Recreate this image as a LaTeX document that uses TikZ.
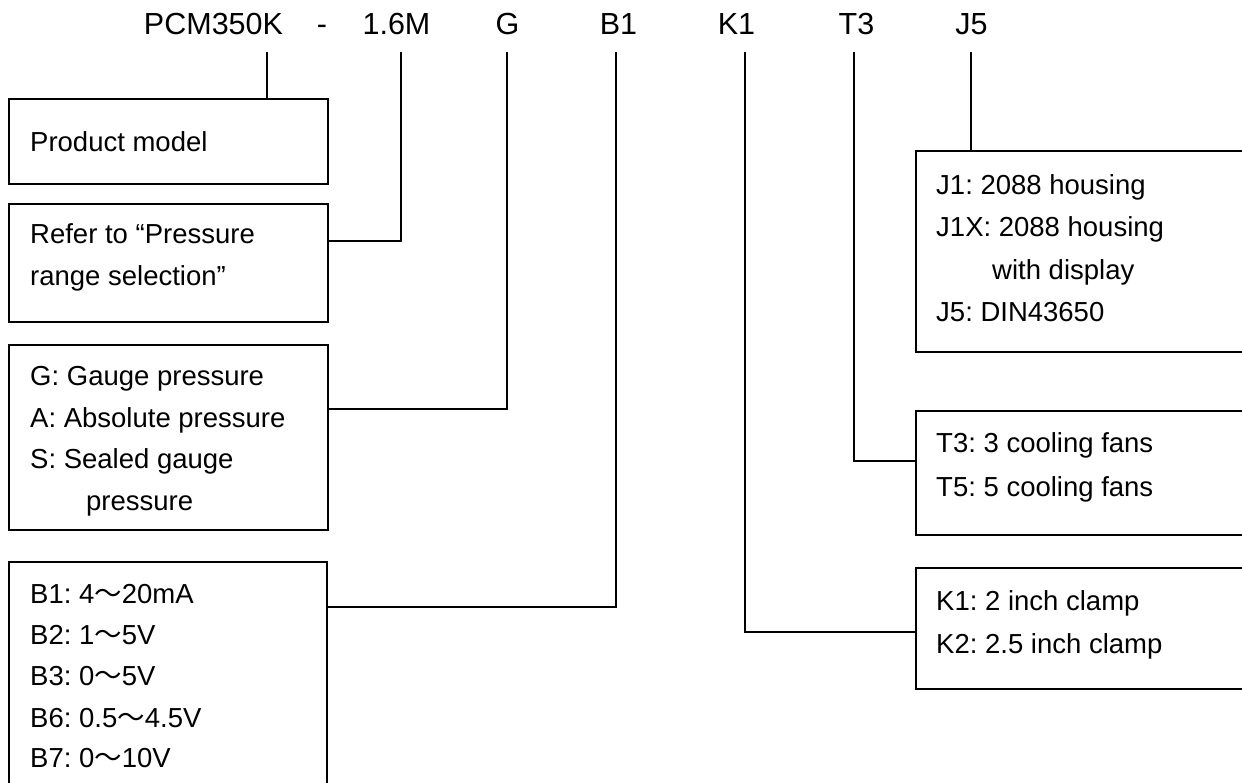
\documentclass[tikz,border=0pt]{standalone}
\usepackage{fontspec}
\setmainfont{Liberation Sans}
\newfontfamily\cjk{Noto Sans CJK SC}
\usetikzlibrary{calc}
\newcommand{\tld}{{\cjk ～}}
\frenchspacing
\tikzset{
  lbl/.style={font=\fontsize{30.5}{36}\selectfont, inner sep=0pt, anchor=base},
  txt/.style={font=\fontsize{27.5}{33}\selectfont\frenchspacing, inner sep=0pt, anchor=base west},
  box/.style={draw, line width=1.8pt, inner sep=0pt, anchor=north west},
  conn/.style={line width=1.6pt}
}
\begin{document}
\begin{tikzpicture}[x=1pt,y=-1pt]
\useasboundingbox (0,0) rectangle (1242,783);
\clip (0,0) rectangle (1242,783);
% top labels
\node[lbl] (lPCM) at (213.5,35) {PCM350K};
\node[lbl] (ldash) at (322,35) {-};
\node[lbl] (l16) at (396.5,35) {1.6M};
\node[lbl] (lG) at (507.5,35) {G};
\node[lbl] (lB) at (618.5,35) {B1};
\node[lbl] (lK) at (736.5,35) {K1};
\node[lbl] (lT) at (856.5,35) {T3};
\node[lbl] (lJ) at (971.5,35) {J5};
% boxes
\node[box, minimum width=319pt, minimum height=85pt] (pm) at (8,98) {};
\node[box, minimum width=319pt, minimum height=118pt] (rr) at (8,203) {};
\node[box, minimum width=319pt, minimum height=185pt] (g) at (8,344) {};
\node[box, minimum width=318pt, minimum height=260pt] (b) at (8,561) {};
\node[box, minimum width=350pt, minimum height=201pt] (j) at (915,150) {};
\node[box, minimum width=350pt, minimum height=124pt] (t) at (915,410) {};
\node[box, minimum width=350pt, minimum height=121pt] (k) at (915,567) {};
% box texts
\node[txt] (pm1) at (30,152) {Product model};
\node[txt] (rr1) at (30,244) {Refer to “Pressure};
\node[txt] (rr2) at (30,286) {range selection”};
\node[txt] (g1) at (30,385) {G: Gauge pressure};
\node[txt] (g2) at (30,427) {A: Absolute pressure};
\node[txt] (g3) at (30,468) {S: Sealed gauge};
\node[txt] (g4) at (86,510) {pressure};
\node[txt] (b1) at (30,603) {B1: 4\tld20mA};
\node[txt] (b2) at (30,644) {B2: 1\tld5V};
\node[txt] (b3) at (30,685) {B3: 0\tld5V};
\node[txt] (b4) at (30,727) {B6: 0.5\tld4.5V};
\node[txt] (b5) at (30,767) {B7: 0\tld10V};
\node[txt] (j1) at (936,195) {J1: 2088 housing};
\node[txt] (j2) at (936,237) {J1X: 2088 housing};
\node[txt] (j3) at (992,280) {with display};
\node[txt] (j4) at (936,322) {J5: DIN43650};
\node[txt] (t1) at (936,452) {T3: 3 cooling fans};
\node[txt] (t2) at (936,496) {T5: 5 cooling fans};
\node[txt] (k1) at (936,610) {K1: 2 inch clamp};
\node[txt] (k2) at (936,653) {K2: 2.5 inch clamp};
% connectors
\coordinate (cPCM) at (267,52);
\coordinate (c16) at (401,52);
\coordinate (cG) at (507,52);
\coordinate (cB) at (616,52);
\coordinate (cK) at (745,52);
\coordinate (cT) at (854,52);
\coordinate (cJ) at (971,52);
\draw[conn] (cPCM) -- (cPCM |- pm.north);
\draw[conn] (c16) |- ($(rr.north east)+(0,38)$);
\draw[conn] (cG) |- ($(g.north east)+(0,65)$);
\draw[conn] (cB) |- ($(b.north east)+(0,46)$);
\draw[conn] (cK) |- ($(k.north west)+(0,65)$);
\draw[conn] (cT) |- ($(t.north west)+(0,51)$);
\draw[conn] (cJ) -- (cJ |- j.north);
\end{tikzpicture}
\end{document}
